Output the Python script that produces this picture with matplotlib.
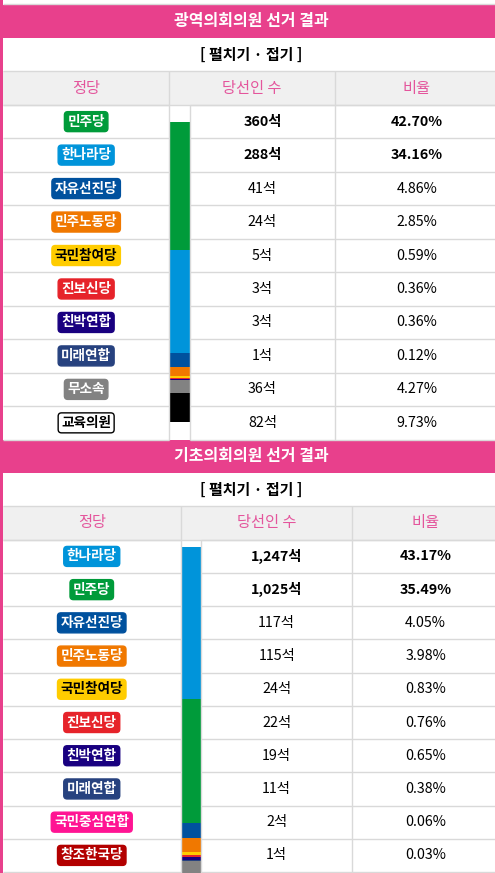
import matplotlib.pyplot as plt

plt.rcParams['font.family'] = ['Noto Sans CJK KR', 'DejaVu Sans']

# ---- data ----
# 광역의회의원
metro_parties = ['민주당', '한나라당', '자유선진당', '민주노동당', '국민참여당',
                 '진보신당', '친박연합', '미래연합', '무소속', '교육의원']
metro_seats = [360, 288, 41, 24, 5, 3, 3, 1, 36, 82]
metro_pct = [42.70, 34.16, 4.86, 2.85, 0.59, 0.36, 0.36, 0.12, 4.27, 9.73]

# 기초의회의원 (last row, 무소속, falls below the visible area)
local_parties = ['한나라당', '민주당', '자유선진당', '민주노동당', '국민참여당',
                 '진보신당', '친박연합', '미래연합', '국민중심연합', '창조한국당', '무소속']
local_seats = [1247, 1025, 117, 115, 24, 22, 19, 11, 2, 1, 305]
local_pct = [43.17, 35.49, 4.05, 3.98, 0.83, 0.76, 0.65, 0.38, 0.06, 0.03, 10.56]

party_color = {
    '민주당': '#009B3A', '한나라당': '#0094DA', '자유선진당': '#00519E',
    '민주노동당': '#F07800', '국민참여당': '#FFCC00', '진보신당': '#E6232A',
    '친박연합': '#190080', '미래연합': '#27427F', '무소속': '#828282',
    '교육의원': '#FFFFFF', '국민중심연합': '#FF1493', '창조한국당': '#B30000',
}
bar_color = dict(party_color, 교육의원='#000000')
dark_text = {'국민참여당', '교육의원'}

PINK = '#E8408C'
HEAD_PINK = '#E4559C'
GRID = '#D9D9D9'
RIGHT = 499
H = 873


def draw_section(ax, title, parties, seats, pct, y0, row_h, cols, bar_scale):
    c_party, c_bar, c_num = cols
    # title bar
    ax.add_patch(plt.Rectangle((0, y0), RIGHT, 33.3, color=PINK, lw=0))
    ax.text(251, y0 + 16.5, title, color='white', fontsize=11.5, fontweight='bold',
            ha='center', va='center')
    # subtitle
    ys = y0 + 33.3
    ax.text(251, ys + 16.5, '[ 펼치기 · 접기 ]', color='black', fontsize=10.8,
            fontweight='bold', ha='center', va='center')
    # header row
    yh = ys + 33.3
    hh = 33.6
    ax.add_patch(plt.Rectangle((3, yh), RIGHT, hh, color='#F0F0F0', lw=0))
    ax.hlines([yh, yh + hh], 3, RIGHT, color=GRID, lw=1)
    ax.vlines([c_party, c_num], yh, yh + hh, color=GRID, lw=1)
    for x, label in [((3 + c_party) / 2, '정당'), ((c_party + c_num) / 2, '당선인 수'),
                     ((c_num + RIGHT) / 2, '비율')]:
        ax.text(x, yh + hh / 2, label, color=HEAD_PINK, fontsize=11,
                ha='center', va='center')

    yr = yh + hh
    n = len(parties)
    bottom_y = yr + n * row_h
    # row lines (the bar column is one merged cell)
    for i in range(n + 1):
        y = yr + i * row_h
        ax.hlines(y, 3, c_party, color=GRID, lw=1)
        ax.hlines(y, c_bar, RIGHT, color=GRID, lw=1)
    ax.vlines([c_party, c_bar, c_num], yr, bottom_y, color=GRID, lw=1)

    # stacked bar centred in the merged cell
    total_h = sum(pct) * bar_scale
    top = yr + (n * row_h - total_h) / 2
    for p, v in zip(parties, pct):
        ax.bar((c_party + c_bar) / 2 + 0.5, v * bar_scale, width=c_bar - c_party - 1,
               bottom=top, color=bar_color[p], lw=0)
        top += v * bar_scale

    for i, (p, s, v) in enumerate(zip(parties, seats, pct)):
        yc = yr + (i + 0.5) * row_h
        if yc > H:
            continue
        fc = party_color[p]
        tc = 'black' if p in dark_text else 'white'
        ec = 'black' if p == '교육의원' else fc
        ax.text((3 + c_party) / 2, yc, p, color=tc, fontsize=9.8, fontweight='bold',
                ha='center', va='center',
                bbox=dict(boxstyle='round,pad=0.22,rounding_size=0.25', fc=fc, ec=ec,
                          lw=1))
        w = 'bold' if i < 2 else 'normal'
        ax.text((c_bar + c_num) / 2, yc, f'{s:,}석', color='black', fontsize=10.3,
                fontweight=w, ha='center', va='center')
        ax.text((c_num + RIGHT) / 2, yc, f'{v:.2f}%', color='black', fontsize=10.3,
                fontweight=w, ha='center', va='center')
    return bottom_y


fig = plt.figure(figsize=(4.95, 8.73), dpi=100)
ax = fig.add_axes([0, 0, 1, 1])
ax.set_xlim(0, 495)
ax.set_ylim(H, 0)
ax.axis('off')

ax.hlines(4.3, 3, RIGHT, color=GRID, lw=1)
end1 = draw_section(ax, '광역의회의원 선거 결과', metro_parties, metro_seats, metro_pct,
                    4.7, 33.47, (169.3, 190, 335), 3.0)
draw_section(ax, '기초의회의원 선거 결과', local_parties, local_seats, local_pct,
             end1, 33.22, (180.5, 201, 352.3), 3.52)

# left pink border
ax.add_patch(plt.Rectangle((0, 0), 2.7, H, color=PINK, lw=0))

fig.savefig('out.png', dpi=100)
